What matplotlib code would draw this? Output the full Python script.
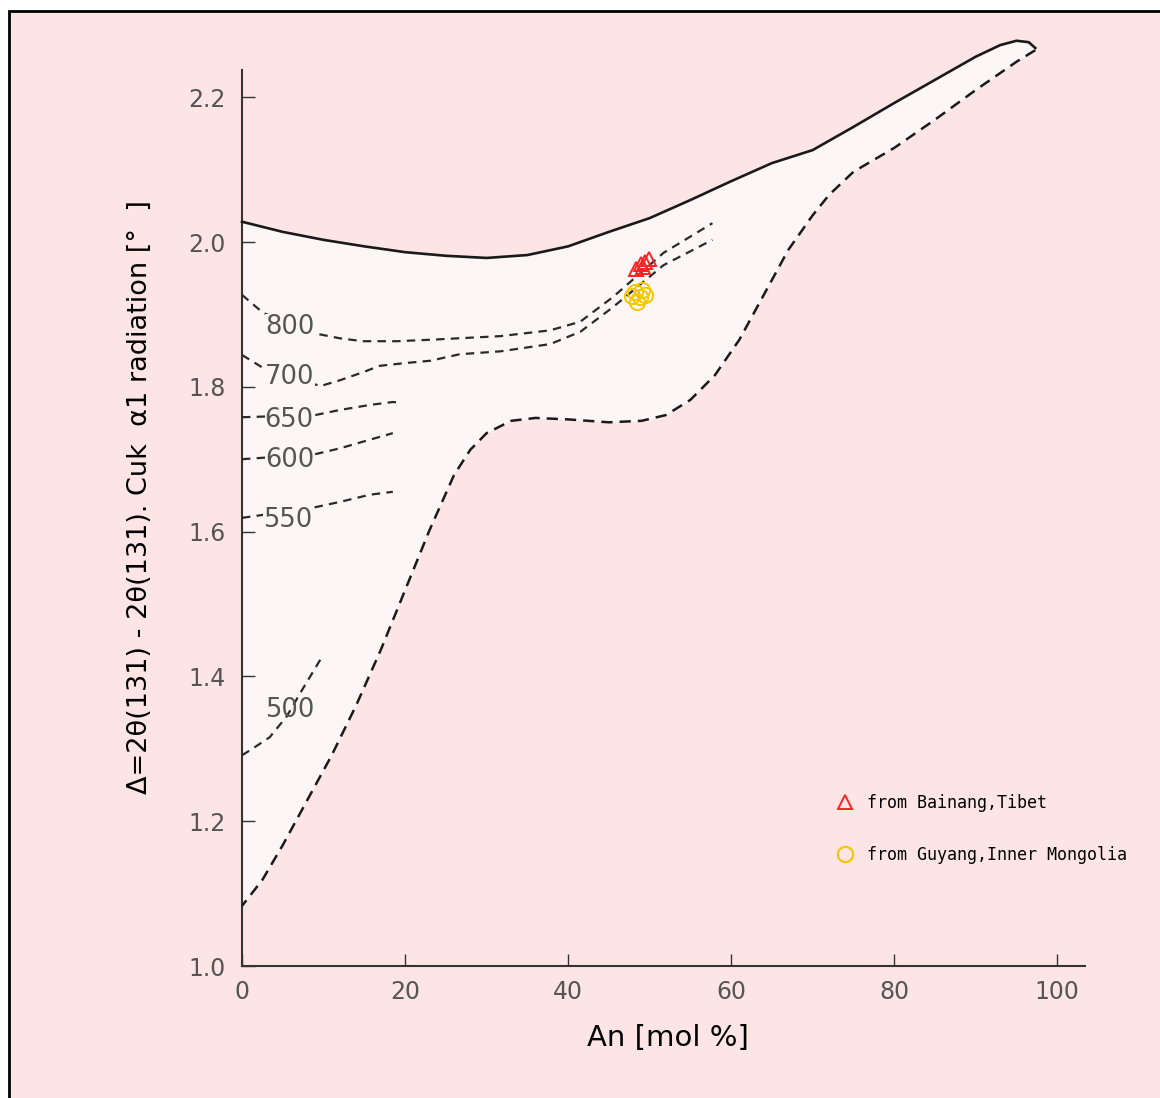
import matplotlib
matplotlib.use("Agg")
import matplotlib.pyplot as plt
from matplotlib.patches import Rectangle
from matplotlib.lines import Line2D

# Limite supérieure (trait plein)
upper_x = [0, 5, 10, 15, 20, 25, 30, 35, 40, 45, 50, 55, 60, 65, 70, 75, 80, 85, 90, 93, 95, 96.5, 97.3]
upper_y = [2.028, 2.014, 2.003, 1.994, 1.986, 1.981, 1.978, 1.982, 1.994, 2.014, 2.033, 2.058, 2.084,
           2.109, 2.127, 2.159, 2.192, 2.224, 2.256, 2.272, 2.278, 2.276, 2.268]

# Limite inférieure (tirets), du sommet vers x = 0
lower_x = [97.3, 95, 90, 85, 80, 75, 72, 70, 67, 64, 61, 58, 55, 52, 49, 45, 40, 36, 33, 30, 28, 26,
           23, 20, 17, 14, 11, 8, 5, 2.5, 0]
lower_y = [2.265, 2.249, 2.210, 2.169, 2.130, 2.097, 2.065, 2.037, 1.989, 1.927, 1.865, 1.816, 1.782,
           1.761, 1.753, 1.751, 1.755, 1.757, 1.753, 1.736, 1.713, 1.678, 1.602, 1.519, 1.436, 1.360,
           1.291, 1.229, 1.167, 1.119, 1.083]

# Isothermes
iso_800_x = [0, 2.6, 9.3, 12, 14.8, 19, 23.1, 31.7, 37.8, 41.5, 45.5, 51.7, 57.7]
iso_800_y = [1.927, 1.902, 1.873, 1.867, 1.863, 1.863, 1.865, 1.870, 1.878, 1.890, 1.924, 1.985, 2.026]
iso_700_x = [0, 2.6, 9.6, 12, 14.8, 16.9, 20.2, 23.1, 26.7, 31.7, 37.8, 41.5, 45.5, 51.7, 57.7]
iso_700_y = [1.844, 1.826, 1.801, 1.809, 1.820, 1.829, 1.833, 1.836, 1.845, 1.849, 1.859, 1.876, 1.910,
             1.968, 2.003]
iso_650_x = [0, 9, 12, 15.7, 18.5, 19.6]
iso_650_y = [1.758, 1.761, 1.768, 1.775, 1.779, 1.778]
iso_600_x = [0, 9, 12, 15.7, 18.5]
iso_600_y = [1.700, 1.707, 1.715, 1.727, 1.736]
iso_550_x = [0, 8.7, 12, 15.7, 18.5]
iso_550_y = [1.619, 1.633, 1.641, 1.651, 1.655]
iso_500_x = [0, 1.4, 3.4, 5.5, 7.3, 9.6]
iso_500_y = [1.291, 1.301, 1.316, 1.345, 1.380, 1.423]

iso_labels = ["800", "700", "650", "600", "550", "500"]
label_x = [5.9, 5.9, 5.8, 5.9, 5.6, 5.9]
label_y = [1.882, 1.814, 1.754, 1.699, 1.616, 1.354]

# Échantillons
tibet_x = [48.34, 48.96, 49.45, 49.94, 49.20]
tibet_y = [1.963, 1.970, 1.972, 1.977, 1.966]
mongolia_x = [48.22, 49.08, 48.83, 48.47, 49.45, 47.85]
mongolia_y = [1.931, 1.934, 1.924, 1.917, 1.927, 1.925]

BG = "#fde5e5"
FILL = "#fdf6f6"
RED = "#ff2222"
YELLOW = "#f5c800"

fig = plt.figure(figsize=(11.6, 10.98), dpi=100, facecolor="white")
fig.patches.append(Rectangle((9 / 1160, -0.01), 1.1, 1 - 11 / 1098 + 0.01, transform=fig.transFigure,
                             facecolor=BG, edgecolor="black", linewidth=2, zorder=-10))

ax = fig.add_axes([242 / 1160, 1 - 966 / 1098, 843 / 1160, 896 / 1098])
ax.set_facecolor("none")
ax.set_xlim(0, 103.4)
ax.set_ylim(1.0, 2.2376)

# Zone remplie
ax.fill(upper_x + lower_x, upper_y + lower_y, color=FILL, zorder=1, clip_on=False)
ax.plot(upper_x, upper_y, color="#1a1a1a", lw=1.9, zorder=3, clip_on=False, solid_joinstyle="round")
ax.plot(lower_x, lower_y, color="#1a1a1a", lw=1.8, dashes=(4.5, 2.8), zorder=3, clip_on=False)

isos = [(iso_800_x, iso_800_y), (iso_700_x, iso_700_y), (iso_650_x, iso_650_y),
        (iso_600_x, iso_600_y), (iso_550_x, iso_550_y), (iso_500_x, iso_500_y)]
for xs, ys in isos:
    ax.plot(xs, ys, color="#2a2a2a", lw=1.6, dashes=(3.8, 2.8), zorder=3)

for lab, lx, ly in zip(iso_labels, label_x, label_y):
    bb = None if lab == "500" else dict(facecolor=FILL, edgecolor="none", pad=0)
    ax.text(lx, ly, lab, ha="center", va="center", fontsize=18.5, color="#555555", bbox=bb, zorder=4)

ax.plot(tibet_x, tibet_y, linestyle="none", marker="^", markersize=10, mfc="none", mec=RED, mew=1.4, zorder=5)
ax.plot(mongolia_x, mongolia_y, linestyle="none", marker="o", markersize=11, mfc="none", mec=YELLOW,
        mew=1.4, zorder=5)

# Axes
for s in ["top", "right"]:
    ax.spines[s].set_visible(False)
for s in ["left", "bottom"]:
    ax.spines[s].set_linewidth(1.5)
    ax.spines[s].set_color("#333333")
ax.set_xticks([0, 20, 40, 60, 80, 100])
ax.set_yticks([1.0, 1.2, 1.4, 1.6, 1.8, 2.0, 2.2])
ax.set_yticklabels(["1.0", "1.2", "1.4", "1.6", "1.8", "2.0", "2.2"])
ax.tick_params(axis="both", direction="in", length=9, width=1, color="#333333",
               labelsize=17, labelcolor="#555555")
ax.tick_params(axis="y", pad=12)
ax.tick_params(axis="x", pad=10)

ax.text(-0.121, 0.523, "Δ=2θ(131) - 2θ(131). Cuk  α1 radiation [°  ]", transform=ax.transAxes,
        rotation=90, ha="center", va="center", fontsize=19.5, color="black")
fig.text(668 / 1160, 1 - 1038 / 1098, "An [mol %]", ha="center", va="center", fontsize=21, color="black")

handles = [Line2D([], [], linestyle="none", marker="^", markersize=10, mfc="none", mec=RED, mew=1.4),
           Line2D([], [], linestyle="none", marker="o", markersize=11, mfc="none", mec=YELLOW, mew=1.6)]
ax.legend(handles, ["from Bainang,Tibet", "from Guyang,Inner Mongolia"], loc="upper left",
          bbox_to_anchor=(837 / 1160, 1 - 794 / 1098), bbox_transform=fig.transFigure,
          frameon=False, borderpad=0, borderaxespad=0, handlelength=1.0, handletextpad=0.8,
          labelspacing=2.05, prop={"family": "DejaVu Sans Mono", "size": 12})

fig.savefig("out.png", dpi=100, facecolor="white")
